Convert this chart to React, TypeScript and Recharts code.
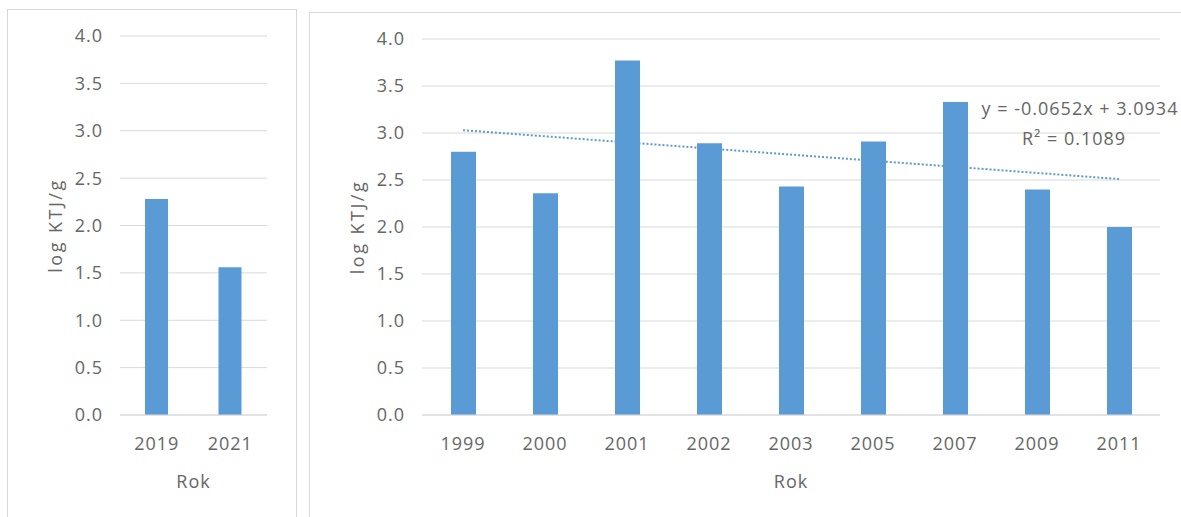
import { BarChart, Bar, XAxis, YAxis, CartesianGrid, ReferenceLine } from 'recharts'

const leftYears = ['2019', '2021']
const leftValues = [2.28, 1.56]

const rightYears = ['1999', '2000', '2001', '2002', '2003', '2005', '2007', '2009', '2011']
const rightValues = [2.8, 2.36, 3.77, 2.89, 2.43, 2.91, 3.33, 2.4, 2.0]

const yTicks = [0, 0.5, 1, 1.5, 2, 2.5, 3, 3.5, 4]
const trendStart = 3.03
const trendEnd = 2.51
const trendEquation = 'y = -0.0652x + 3.0934'
const trendR2 = 'R² = 0.1089'

const FONT = '"Open Sans", sans-serif'
const GREY = '#666666'
const BLUE = '#5b9bd5'
const GRID = '#d9d9d9'

const leftData = leftYears.map((year, i) => ({ year, value: leftValues[i] }))
const rightData = rightYears.map((year, i) => ({ year, value: rightValues[i] }))

const tickStyle = { fill: GREY, fontSize: 18, fontFamily: FONT, style: { letterSpacing: '1px' } }

function Panel({ data, width, height, barSize, right, trend }:{
  data: { year: string, value: number }[], width: number, height: number, barSize: number, right: number, trend?: boolean
}) {
  return (
    <BarChart width={width} height={height} data={data}
      margin={{ top: 26, right, bottom: 22, left: 0 }}>
      <CartesianGrid vertical={false} stroke={GRID} strokeWidth={1} />
      <XAxis dataKey="year" height={80} axisLine={{ stroke: GRID }} tickLine={false}
        tickSize={0} tickMargin={22} tick={tickStyle} interval={0}
        label={{ value: 'Rok', position: 'insideBottom', offset: 7, fill: GREY, fontSize: 18, fontFamily: FONT, style: { letterSpacing: '1px' } }} />
      <YAxis width={112} domain={[0, 4]} ticks={yTicks} axisLine={false} tickLine={false}
        tickSize={0} tickMargin={17} tick={tickStyle} tickFormatter={(v: number) => v.toFixed(1)}
        label={{ value: 'log KTJ/g', angle: -90, position: 'insideLeft', offset: 48, fill: GREY, fontSize: 18, fontFamily: FONT, style: { textAnchor: 'middle', letterSpacing: '2.5px' } }} />
      {trend && (
        <ReferenceLine segment={[{ x: data[0].year, y: trendStart }, { x: data[data.length - 1].year, y: trendEnd }]}
          stroke={BLUE} strokeWidth={2} strokeDasharray="2 2" />
      )}
      <Bar dataKey="value" fill={BLUE} barSize={barSize} isAnimationActive={false} />
    </BarChart>
  )
}

const eqStyle = {
  position: 'absolute' as const, transform: 'translateX(-50%)', whiteSpace: 'nowrap' as const,
  color: GREY, fontSize: 18, lineHeight: '18px', letterSpacing: '1px'
}

export default function App() {
  return (
    <div style={{ position: 'absolute', left: 0, top: 0, width: 1181, height: 517, overflow: 'hidden', background: '#fff', fontFamily: FONT }}>
      <div style={{ position: 'absolute', left: 7, top: 9, width: 288, height: 520, border: `1px solid ${GRID}` }}>
        <Panel data={leftData} width={288} height={507} barSize={23} right={29} />
      </div>
      <div style={{ position: 'absolute', left: 309, top: 12, width: 880, height: 520, border: `1px solid ${GRID}` }}>
        <Panel data={rightData} width={871} height={504} barSize={25} right={21} trend />
      </div>
      <div style={{ ...eqStyle, left: 1080, top: 99 }}>{trendEquation}</div>
      <div style={{ ...eqStyle, left: 1074, top: 129 }}>{trendR2}</div>
    </div>
  )
}
